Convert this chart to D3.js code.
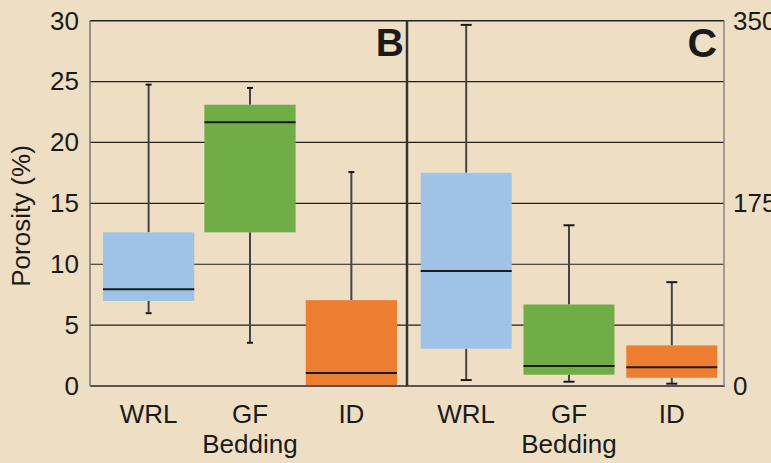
<!DOCTYPE html>
<html>
<head>
<meta charset="utf-8">
<script src="https://cdn.jsdelivr.net/npm/d3@7"></script>
<style>
  html, body { margin: 0; padding: 0; background: #eedfc4; }
  svg { display: block; }
  text { font-family: "Liberation Sans", Arial, Helvetica, sans-serif; fill: #1a1a1a; }
</style>
</head>
<body>
<script>
// ---------- data ----------
const categories = ["WRL", "GF", "ID"];
const categorySub = ["", "Bedding", ""];
const boxColors = ["#9fc3e6", "#70ad47", "#ed7d31"];

// Panel B: porosity (%) — left axis
const porosityMin    = [5.98, 3.55, 0.16];
const porosityQ1     = [6.99, 12.62, 0.0];
const porosityMedian = [7.95, 21.67, 1.07];
const porosityQ3     = [12.62, 23.1, 7.05];
const porosityMax    = [24.75, 24.48, 17.57];

// Panel C: right axis (0–350)
const rightMin    = [5.7, 4.1, 2.2];
const rightQ1     = [35.7, 10.8, 7.9];
const rightMedian = [110.3, 19.1, 17.9];
const rightQ3     = [204.3, 78.1, 38.9];
const rightMax    = [346, 154, 99.5];

const leftTicks = [0, 5, 10, 15, 20, 25, 30];
const rightTicks = [0, 175, 350];
const gridValues = [5, 10, 15, 20, 25];
const panelLabels = ["B", "C"];

// ---------- layout ----------
const W = 771, H = 463;
const pLeft = 90, pDivider = 407, pRight = 724, pTop = 20.7, pBottom = 386;

const svg = d3.select("body").append("svg").attr("width", W).attr("height", H);
svg.append("rect").attr("width", W).attr("height", H).attr("fill", "#eedfc4");

const y = d3.scaleLinear().domain([0, 30]).range([pBottom, pTop]);
const y2 = d3.scaleLinear().domain([0, 350]).range([pBottom, pTop]);

const xB = d3.scaleBand().domain(categories).range([103, 397]).paddingInner(0.1).paddingOuter(0);
const xC = d3.scaleBand().domain(categories).range([420.7, 717.3]).paddingInner(0.115).paddingOuter(0);

// gridlines
svg.append("g").selectAll("line").data(gridValues).join("line")
  .attr("x1", pLeft).attr("x2", pRight)
  .attr("y1", d => y(d)).attr("y2", d => y(d))
  .attr("stroke", "#1e1e1e").attr("stroke-width", 1.2);

function drawPanel(x, scale, mins, q1, med, q3, maxs, capW) {
  const g = svg.append("g");
  const idx = d3.range(categories.length);
  const cx = i => x(categories[i]) + x.bandwidth() / 2;
  g.selectAll("line.wu").data(idx).join("line").attr("class", "wu")
    .attr("x1", cx).attr("x2", cx)
    .attr("y1", i => scale(maxs[i])).attr("y2", i => scale(q3[i]))
    .attr("stroke", "#444").attr("stroke-width", 2);
  g.selectAll("line.wl").data(idx).join("line").attr("class", "wl")
    .attr("x1", cx).attr("x2", cx)
    .attr("y1", i => scale(q1[i])).attr("y2", i => scale(mins[i]))
    .attr("stroke", "#444").attr("stroke-width", 2);
  g.selectAll("line.ct").data(idx).join("line").attr("class", "ct")
    .attr("x1", i => cx(i) - capW / 2).attr("x2", i => cx(i) + capW / 2)
    .attr("y1", i => scale(maxs[i])).attr("y2", i => scale(maxs[i]))
    .attr("stroke", "#1a1a1a").attr("stroke-width", 2);
  g.selectAll("line.cb").data(idx).join("line").attr("class", "cb")
    .attr("x1", i => cx(i) - capW / 2).attr("x2", i => cx(i) + capW / 2)
    .attr("y1", i => scale(mins[i])).attr("y2", i => scale(mins[i]))
    .attr("stroke", "#1a1a1a").attr("stroke-width", 2);
  g.selectAll("rect.box").data(idx).join("rect").attr("class", "box")
    .attr("x", i => x(categories[i])).attr("width", x.bandwidth())
    .attr("y", i => scale(q3[i])).attr("height", i => scale(q1[i]) - scale(q3[i]))
    .attr("fill", i => boxColors[i]);
  g.selectAll("line.md").data(idx).join("line").attr("class", "md")
    .attr("x1", i => x(categories[i])).attr("x2", i => x(categories[i]) + x.bandwidth())
    .attr("y1", i => scale(med[i])).attr("y2", i => scale(med[i]))
    .attr("stroke", "#1a1a1a").attr("stroke-width", 2);
  g.selectAll("text.cat").data(idx).join("text").attr("class", "cat")
    .attr("x", cx).attr("y", 423).attr("text-anchor", "middle")
    .attr("font-size", 26).text(i => categories[i]);
  g.selectAll("text.sub").data(idx).join("text").attr("class", "sub")
    .attr("x", cx).attr("y", 453).attr("text-anchor", "middle")
    .attr("font-size", 26).text(i => categorySub[i]);
}

drawPanel(xB, y, porosityMin, porosityQ1, porosityMedian, porosityQ3, porosityMax, 6);
drawPanel(xC, y2, rightMin, rightQ1, rightMedian, rightQ3, rightMax, 11);

// frame
svg.append("line").attr("x1", pLeft).attr("x2", pRight).attr("y1", pTop).attr("y2", pTop)
  .attr("stroke", "#222").attr("stroke-width", 1.5);
svg.append("line").attr("x1", pLeft).attr("x2", pRight + 0.8).attr("y1", pBottom).attr("y2", pBottom)
  .attr("stroke", "#555").attr("stroke-width", 1.8);
svg.append("line").attr("x1", pLeft).attr("x2", pLeft).attr("y1", pTop).attr("y2", pBottom)
  .attr("stroke", "#7a7470").attr("stroke-width", 1.5);
svg.append("line").attr("x1", pRight).attr("x2", pRight).attr("y1", pTop).attr("y2", pBottom)
  .attr("stroke", "#8a847e").attr("stroke-width", 1.5);
svg.append("line").attr("x1", pDivider).attr("x2", pDivider).attr("y1", pTop).attr("y2", pBottom)
  .attr("stroke", "#333").attr("stroke-width", 2.5);

// axes
const axL = svg.append("g").attr("transform", `translate(${pLeft},0)`)
  .call(d3.axisLeft(y).tickValues(leftTicks).tickSize(0).tickPadding(11));
axL.select(".domain").remove();
axL.selectAll("text").attr("font-size", 26).attr("font-family", "Liberation Sans, Arial, sans-serif").attr("fill", "#1a1a1a");

const axR = svg.append("g").attr("transform", `translate(${pRight},0)`)
  .call(d3.axisRight(y2).tickValues(rightTicks).tickSize(0).tickPadding(9));
axR.select(".domain").remove();
axR.selectAll("text").attr("font-size", 26).attr("font-family", "Liberation Sans, Arial, sans-serif").attr("fill", "#1a1a1a");

// y label
svg.append("text")
  .attr("transform", `translate(30,216) rotate(-90)`)
  .attr("text-anchor", "middle").attr("font-size", 26)
  .text("Porosity (%)");

// panel labels
svg.append("text").attr("x", 404).attr("y", 56).attr("text-anchor", "end")
  .attr("font-size", 39).attr("font-weight", "bold").text(panelLabels[0]);
svg.append("text").attr("x", 717).attr("y", 57).attr("text-anchor", "end")
  .attr("font-size", 41).attr("font-weight", "bold").text(panelLabels[1]);
</script>
</body>
</html>
